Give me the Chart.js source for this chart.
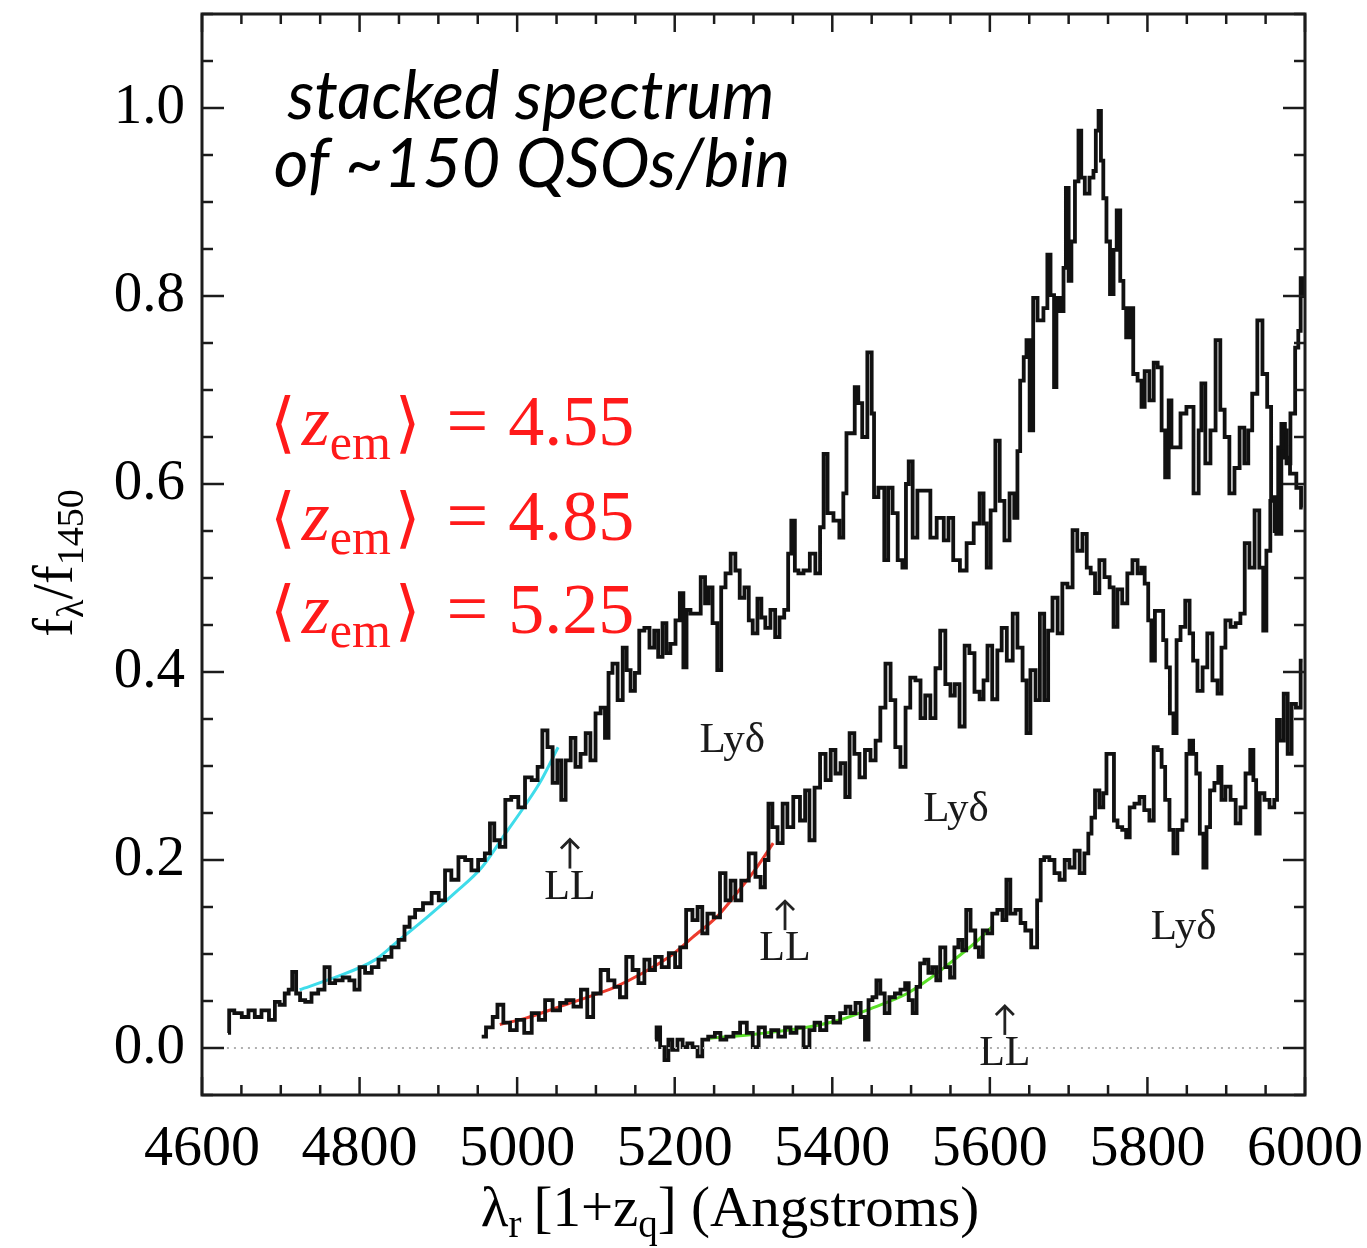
<!DOCTYPE html>
<html><head><meta charset="utf-8">
<script src="https://cdn.jsdelivr.net/npm/chart.js@4"></script>
<style>html,body{margin:0;padding:0;background:#fff;}#wrap{width:1367px;height:1248px;}</style>
</head><body><div id="wrap"><canvas id="c" width="1367" height="1248"></canvas></div>
<script>
// ---------- DATA ----------
const xTickValues = [4600,4800,5000,5200,5400,5600,5800,6000];
const yTickValues = [0.0,0.2,0.4,0.6,0.8,1.0];
const zValues = ['4.55','4.85','5.25'];

const spec455 = [[4633,0.016],[4636,0.040],[4646,0.037],[4655,0.033],[4663,0.040],[4671,0.033],[4680,0.040],[4690,0.030],[4695,0.049],[4702,0.046],[4708,0.058],[4712,0.062],[4717,0.081],[4722,0.058],[4727,0.051],[4735,0.049],[4743,0.058],[4752,0.062],[4759,0.086],[4765,0.069],[4773,0.072],[4784,0.075],[4790,0.072],[4797,0.062],[4803,0.086],[4811,0.080],[4820,0.086],[4828,0.094],[4836,0.097],[4845,0.107],[4854,0.115],[4860,0.129],[4867,0.139],[4874,0.147],[4887,0.154],[4896,0.165],[4905,0.157],[4912,0.189],[4921,0.179],[4930,0.203],[4938,0.200],[4946,0.189],[4955,0.200],[4963,0.207],[4968,0.239],[4974,0.221],[4982,0.214],[4988,0.264],[4997,0.267],[5006,0.256],[5014,0.288],[5023,0.285],[5029,0.299],[5035,0.338],[5042,0.320],[5048,0.282],[5054,0.306],[5058,0.264],[5065,0.306],[5071,0.330],[5077,0.299],[5084,0.313],[5090,0.335],[5096,0.306],[5103,0.356],[5109,0.362],[5114,0.330],[5118,0.399],[5124,0.409],[5131,0.370],[5137,0.426],[5141,0.402],[5147,0.380],[5152,0.399],[5158,0.444],[5165,0.447],[5171,0.426],[5177,0.444],[5181,0.416],[5188,0.452],[5191,0.420],[5198,0.430],[5204,0.455],[5209,0.484],[5213,0.405],[5217,0.466],[5223,0.462],[5230,0.462],[5236,0.501],[5241,0.473],[5245,0.490],[5251,0.452],[5257,0.402],[5261,0.490],[5268,0.505],[5274,0.526],[5280,0.508],[5285,0.479],[5292,0.490],[5296,0.455],[5302,0.441],[5308,0.478],[5312,0.458],[5318,0.447],[5325,0.466],[5330,0.437],[5336,0.458],[5342,0.466],[5346,0.526],[5350,0.561],[5355,0.508],[5359,0.505],[5368,0.508],[5375,0.526],[5382,0.505],[5387,0.554],[5391,0.632],[5397,0.569],[5406,0.561],[5412,0.543],[5416,0.590],[5420,0.654],[5426,0.654],[5431,0.703],[5435,0.686],[5441,0.650],[5448,0.740],[5452,0.675],[5454,0.586],[5463,0.596],[5469,0.519],[5473,0.596],[5480,0.569],[5486,0.519],[5492,0.511],[5495,0.600],[5499,0.624],[5505,0.543],[5511,0.593],[5521,0.593],[5528,0.543],[5537,0.564],[5546,0.540],[5549,0.564],[5558,0.519],[5566,0.508],[5575,0.537],[5584,0.558],[5590,0.590],[5594,0.558],[5598,0.511],[5604,0.572],[5610,0.646],[5615,0.582],[5622,0.540],[5628,0.590],[5634,0.564],[5636,0.635],[5641,0.710],[5645,0.735],[5648,0.753],[5653,0.657],[5657,0.798],[5664,0.774],[5672,0.787],[5674,0.844],[5680,0.801],[5683,0.703],[5686,0.798],[5692,0.784],[5695,0.830],[5698,0.915],[5702,0.816],[5705,0.858],[5711,0.922],[5714,0.976],[5718,0.926],[5723,0.909],[5730,0.926],[5733,0.933],[5736,0.976],[5740,0.997],[5742,0.944],[5746,0.904],[5750,0.858],[5755,0.802],[5759,0.849],[5763,0.891],[5768,0.816],[5771,0.787],[5775,0.756],[5780,0.787],[5784,0.717],[5791,0.710],[5794,0.682],[5799,0.720],[5806,0.689],[5810,0.729],[5816,0.724],[5820,0.657],[5825,0.607],[5829,0.689],[5832,0.639],[5839,0.639],[5845,0.675],[5854,0.682],[5863,0.590],[5867,0.657],[5870,0.707],[5877,0.622],[5883,0.657],[5890,0.753],[5895,0.679],[5901,0.650],[5907,0.590],[5914,0.617],[5920,0.660],[5926,0.622],[5930,0.657],[5936,0.696],[5943,0.774],[5949,0.717],[5955,0.682],[5959,0.586],[5964,0.550],[5968,0.639],[5975,0.657],[5978,0.622],[5985,0.675],[5990,0.745],[5993,0.763],[5996,0.819],[6000,0.800]];

const spec485 = [[4955,0.012],[4966,0.022],[4972,0.033],[4978,0.046],[4987,0.027],[4995,0.019],[5004,0.030],[5014,0.016],[5023,0.037],[5032,0.030],[5039,0.051],[5051,0.040],[5058,0.048],[5067,0.051],[5076,0.044],[5086,0.062],[5092,0.033],[5101,0.058],[5111,0.083],[5120,0.072],[5127,0.065],[5134,0.054],[5143,0.097],[5150,0.083],[5158,0.069],[5165,0.094],[5171,0.083],[5179,0.097],[5188,0.086],[5197,0.101],[5204,0.086],[5210,0.107],[5219,0.147],[5226,0.136],[5232,0.150],[5238,0.122],[5245,0.143],[5254,0.139],[5261,0.186],[5268,0.157],[5274,0.178],[5280,0.157],[5289,0.178],[5299,0.207],[5306,0.182],[5312,0.171],[5317,0.200],[5321,0.260],[5327,0.235],[5334,0.218],[5340,0.260],[5346,0.235],[5355,0.267],[5363,0.242],[5368,0.274],[5374,0.221],[5381,0.277],[5388,0.313],[5395,0.285],[5401,0.317],[5407,0.292],[5414,0.303],[5419,0.267],[5425,0.335],[5431,0.313],[5438,0.288],[5445,0.317],[5452,0.306],[5458,0.327],[5464,0.362],[5471,0.409],[5477,0.370],[5483,0.320],[5490,0.299],[5496,0.362],[5502,0.394],[5509,0.391],[5515,0.351],[5521,0.375],[5528,0.351],[5534,0.404],[5540,0.444],[5547,0.387],[5553,0.375],[5558,0.387],[5565,0.342],[5571,0.428],[5577,0.420],[5584,0.379],[5590,0.371],[5594,0.391],[5600,0.428],[5606,0.371],[5613,0.423],[5617,0.447],[5626,0.412],[5632,0.462],[5638,0.426],[5645,0.391],[5648,0.335],[5655,0.402],[5661,0.370],[5666,0.462],[5672,0.370],[5676,0.444],[5683,0.479],[5689,0.441],[5695,0.494],[5702,0.490],[5708,0.551],[5714,0.529],[5721,0.547],[5725,0.511],[5731,0.505],[5736,0.484],[5742,0.519],[5749,0.501],[5755,0.490],[5759,0.448],[5765,0.488],[5771,0.473],[5778,0.505],[5784,0.519],[5791,0.505],[5794,0.511],[5799,0.494],[5803,0.455],[5807,0.412],[5812,0.465],[5818,0.465],[5822,0.434],[5826,0.405],[5831,0.356],[5835,0.335],[5839,0.434],[5845,0.448],[5851,0.476],[5856,0.441],[5860,0.412],[5867,0.380],[5873,0.405],[5879,0.441],[5886,0.391],[5892,0.377],[5896,0.426],[5902,0.455],[5909,0.448],[5915,0.452],[5921,0.462],[5926,0.537],[5933,0.511],[5939,0.572],[5945,0.511],[5949,0.444],[5953,0.529],[5959,0.582],[5968,0.547],[5972,0.664],[5977,0.628],[5985,0.611],[5993,0.596],[5997,0.575]];

const spec525 = [[5175,0.009],[5179,0.022],[5184,0.001],[5190,-0.013],[5194,0.009],[5200,-0.002],[5207,0.009],[5213,0.001],[5219,0.005],[5226,0.001],[5232,-0.009],[5238,0.009],[5247,0.012],[5255,0.016],[5261,0.009],[5270,0.012],[5279,0.016],[5287,0.027],[5296,0.016],[5302,0.001],[5311,0.022],[5318,0.012],[5327,0.019],[5336,0.012],[5344,0.022],[5350,0.016],[5359,0.022],[5368,0.001],[5374,0.019],[5381,0.027],[5388,0.019],[5397,0.033],[5406,0.027],[5414,0.037],[5420,0.044],[5426,0.037],[5433,0.048],[5439,0.033],[5444,0.009],[5448,0.051],[5454,0.054],[5458,0.072],[5464,0.058],[5469,0.037],[5476,0.054],[5483,0.058],[5490,0.062],[5495,0.069],[5499,0.051],[5505,0.037],[5509,0.065],[5514,0.090],[5520,0.094],[5524,0.080],[5530,0.086],[5534,0.072],[5540,0.107],[5547,0.086],[5552,0.075],[5558,0.107],[5562,0.115],[5568,0.104],[5572,0.147],[5579,0.125],[5584,0.107],[5588,0.097],[5594,0.125],[5600,0.122],[5606,0.143],[5613,0.147],[5619,0.136],[5623,0.179],[5629,0.143],[5636,0.147],[5642,0.133],[5648,0.125],[5657,0.107],[5663,0.157],[5666,0.200],[5672,0.203],[5679,0.200],[5685,0.186],[5692,0.179],[5698,0.200],[5704,0.192],[5711,0.210],[5717,0.186],[5723,0.207],[5727,0.228],[5731,0.245],[5736,0.274],[5742,0.256],[5746,0.271],[5750,0.313],[5756,0.313],[5759,0.242],[5765,0.235],[5771,0.232],[5775,0.224],[5780,0.256],[5787,0.260],[5793,0.267],[5799,0.253],[5806,0.242],[5810,0.320],[5816,0.317],[5820,0.299],[5825,0.264],[5831,0.232],[5835,0.207],[5841,0.232],[5848,0.242],[5851,0.313],[5856,0.327],[5860,0.313],[5864,0.292],[5869,0.228],[5873,0.192],[5877,0.235],[5882,0.274],[5888,0.282],[5892,0.299],[5896,0.264],[5902,0.278],[5909,0.264],[5915,0.239],[5921,0.256],[5928,0.292],[5933,0.317],[5936,0.285],[5940,0.228],[5945,0.271],[5952,0.264],[5958,0.256],[5964,0.264],[5965,0.349],[5971,0.327],[5975,0.377],[5981,0.313],[5985,0.366],[5992,0.362],[5997,0.412]];

const fit455 = [[4724,0.062],[4765,0.074],[4820,0.094],[4849,0.114],[4887,0.140],[4921,0.165],[4955,0.192],[4985,0.228],[5010,0.258],[5030,0.284],[5052,0.320]];
const fit485 = [[4978,0.025],[5012,0.032],[5054,0.044],[5096,0.056],[5122,0.064],[5160,0.080],[5198,0.100],[5223,0.118],[5254,0.140],[5279,0.165],[5304,0.192],[5325,0.218]];
const fit525 = [[5241,0.010],[5304,0.015],[5368,0.022],[5410,0.030],[5452,0.043],[5495,0.058],[5524,0.074],[5558,0.096],[5584,0.114],[5604,0.130]];
const zeroLine = [[4605,0],[6000,0]];

// annotation anchors (data units)
const llAnchors = [[5067,0.159],[5340,0.0935],[5619,-0.018]];
const lyAnchors = [[5273,0.315],[5557,0.241],[5846,0.116]];

// ---------- CHART ----------
const pts = a => a.map(p => ({x:p[0], y:p[1]}));
const SERIF = "'Liberation Serif','Times New Roman',serif";

const spec = (d) => ({data:pts(d), borderColor:'#111', borderWidth:3.8, pointRadius:0, stepped:'middle', fill:false});
const fit = (d,c) => ({data:pts(d), borderColor:c, borderWidth:3, pointRadius:0, cubicInterpolationMode:'monotone', fill:false});

function drawParts(ctx, parts, x, y, align){
  let w = 0;
  parts.forEach(p => { ctx.font = p.f; p.w = ctx.measureText(p.t).width; w += p.w + (p.gap||0); });
  let cx = align==='center' ? x - w/2 : x;
  parts.forEach(p => { ctx.font = p.f; ctx.fillText(p.t, cx, y + (p.dy||0)); cx += p.w + (p.gap||0); });
}

const frame = {
  id:'frame',
  afterDraw(chart){
    const {ctx, chartArea:a, scales:{x, y}} = chart;
    ctx.save();
    ctx.strokeStyle = '#1c1c1c';
    ctx.lineCap = 'butt';
    ctx.lineWidth = 2.5;
    const ln = (x1,y1,x2,y2)=>{ctx.beginPath();ctx.moveTo(x1,y1);ctx.lineTo(x2,y2);ctx.stroke();};
    for (let i = 0; ; i++){
      const v = x.min + i*50; if (v > x.max + 1e-6) break;
      const px = x.getPixelForValue(v);
      const L = xTickValues.includes(v) ? 18 : 10;
      ln(px, a.bottom, px, a.bottom - L); ln(px, a.top, px, a.top + L);
    }
    for (let i = -1; ; i++){
      const v = +(i*0.05).toFixed(2); if (v > y.max + 1e-6) break;
      if (v < y.min) continue;
      const py = y.getPixelForValue(v);
      const L = yTickValues.some(t => Math.abs(t - v) < 1e-6) ? 22 : 11;
      ln(a.left, py, a.left + L, py); ln(a.right, py, a.right - L, py);
    }
    ctx.lineWidth = 3;
    ctx.strokeRect(a.left, a.top, a.right - a.left, a.bottom - a.top);

    ctx.fillStyle = '#000';
    ctx.textBaseline = 'alphabetic';
    ctx.textAlign = 'left';
    drawParts(ctx, [{t:'stacked spectrum', f:"italic 67px Lato, 'Open Sans', sans-serif"}], 531, 119, 'center');
    drawParts(ctx, [{t:'of ~150 QSOs/bin', f:"italic 67px Lato, 'Open Sans', sans-serif"}], 532, 187, 'center');

    ctx.fillStyle = '#ff1a1a';
    const base = [445, 540, 633];
    zValues.forEach((z, i) => {
      drawParts(ctx, [
        {t:'\u27E8', f:"66px 'DejaVu Serif', serif", gap:6},
        {t:'z', f:"italic 72px "+SERIF, gap:0},
        {t:'em', f:"50px "+SERIF, dy:14, gap:4},
        {t:'\u27E9', f:"66px 'DejaVu Serif', serif", gap:26},
        {t:'=', f:"74px "+SERIF, gap:20},
        {t:z, f:"72px "+SERIF}
      ], 270, base[i], 'left');
    });

    ctx.fillStyle = '#1a1a1a';
    lyAnchors.forEach(p => {
      drawParts(ctx, [{t:'Ly\u03B4', f:"43px "+SERIF}], x.getPixelForValue(p[0]), y.getPixelForValue(p[1]), 'center');
    });
    ctx.strokeStyle = '#222'; ctx.lineWidth = 2.8;
    llAnchors.forEach(p => {
      const px = x.getPixelForValue(p[0]), py = y.getPixelForValue(p[1]);
      drawParts(ctx, [{t:'LL', f:"42px "+SERIF}], px, py, 'center');
      const y0 = py - 30, y1 = py - 59;
      ln(px, y0, px, y1);
      ctx.beginPath(); ctx.moveTo(px - 9, y1 + 9); ctx.lineTo(px, y1); ctx.lineTo(px + 9, y1 + 9); ctx.stroke();
    });

    ctx.fillStyle = '#000';
    drawParts(ctx, [
      {t:'\u03BB', f:"57px "+SERIF},
      {t:'r', f:"39px "+SERIF, dy:11, gap:12},
      {t:'[1+z', f:"57px "+SERIF},
      {t:'q', f:"39px "+SERIF, dy:11},
      {t:'] (Angstroms)', f:"57px "+SERIF}
    ], 730, 1226, 'center');

    ctx.save();
    ctx.translate(72, 563);
    ctx.rotate(-Math.PI/2);
    drawParts(ctx, [
      {t:'f', f:"56px "+SERIF},
      {t:'\u03BB', f:"38px "+SERIF, dy:11},
      {t:'/f', f:"56px "+SERIF},
      {t:'1450', f:"38px "+SERIF, dy:11}
    ], 0, 0, 'center');
    ctx.restore();
    ctx.restore();
  }
};

const noPad = s => { s.paddingLeft = 0; s.paddingRight = 0; s.paddingTop = 0; s.paddingBottom = 0; };

new Chart(document.getElementById('c'), {
  type:'line',
  data:{ datasets:[
    {data:pts(zeroLine), borderColor:'#b0b0b0', borderWidth:2, borderDash:[2,5], pointRadius:0, fill:false},
    spec(spec455), spec(spec485), spec(spec525),
    fit(fit455,'#3fdcea'), fit(fit485,'#ec3a2c'), fit(fit525,'#5ae028')
  ]},
  options:{
    responsive:false, animation:false, devicePixelRatio:1,
    layout:{padding:{left:0, right:62, top:14, bottom:0}},
    plugins:{legend:{display:false}, tooltip:{enabled:false}},
    scales:{
      x:{type:'linear', min:4600, max:6000,
        afterBuildTicks: s => { s.ticks = xTickValues.map(v => ({value:v})); },
        afterFit: s => { s.height = 153; noPad(s); },
        grid:{display:false, drawTicks:false}, border:{display:false},
        ticks:{autoSkip:false, maxRotation:0, padding:20, color:'#000', font:{family:SERIF, size:58}, callback: v => String(v)}
      },
      y:{type:'linear', min:-0.05, max:1.1,
        afterBuildTicks: s => { s.ticks = yTickValues.map(v => ({value:v})); },
        afterFit: s => { s.width = 202; noPad(s); },
        grid:{display:false, drawTicks:false}, border:{display:false},
        ticks:{padding:17, color:'#000', font:{family:SERIF, size:57}, callback: v => v.toFixed(1)}
      }
    }
  },
  plugins:[frame]
});
</script></body></html>
